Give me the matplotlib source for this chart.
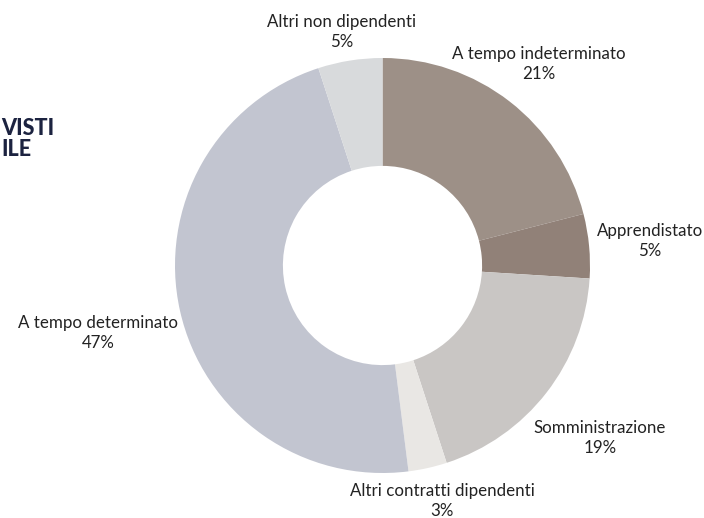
import matplotlib.pyplot as plt

categorie = ["A tempo indeterminato", "Apprendistato", "Somministrazione",
             "Altri contratti dipendenti", "A tempo determinato", "Altri non dipendenti"]
quote = [21, 5, 19, 3, 47, 5]
colori = ["#9d9087", "#918178", "#c9c6c4", "#e9e7e4", "#c2c5d0", "#d8dadc"]

# posizione delle etichette (pixel dell'immagine, origine in alto a sinistra)
pos_etichette = [(539, 64), (650, 241), (600, 438), (442, 501), (98, 333), (342, 32)]

W, H = 704, 518
fig = plt.figure(figsize=(W / 100, H / 100), dpi=100)
fig.patch.set_facecolor("white")

# asse del grafico a ciambella: centro (382, 265), raggio ~207 px
cx, cy, r = 382.5, 265.5, 207.5
ax = fig.add_axes([(cx - r) / W, 1 - (cy + r) / H, 2 * r / W, 2 * r / H])
ax.pie(quote, colors=colori, startangle=90, counterclock=False, radius=1,
       wedgeprops=dict(width=0.52, edgecolor="none"))
ax.set_xlim(-1, 1)
ax.set_ylim(-1, 1)
ax.set_aspect("equal")
ax.axis("off")

font = ["Lato", "DejaVu Sans"]
for nome, q, (x, y) in zip(categorie, quote, pos_etichette):
    fig.text(x / W, 1 - y / H, f"{nome}\n{q}%", ha="center", va="center",
             fontsize=12.2, family=font, color="#222222", linespacing=1.3)

# titolo (tagliato nell'originale)
fig.text(1 / W, 1 - 139 / H, "VISTI\nILE", ha="left", va="center",
         fontsize=15.5, fontweight="black", family=font, color="#1c2340",
         linespacing=1.0)

fig.savefig("out.png", dpi=100)
